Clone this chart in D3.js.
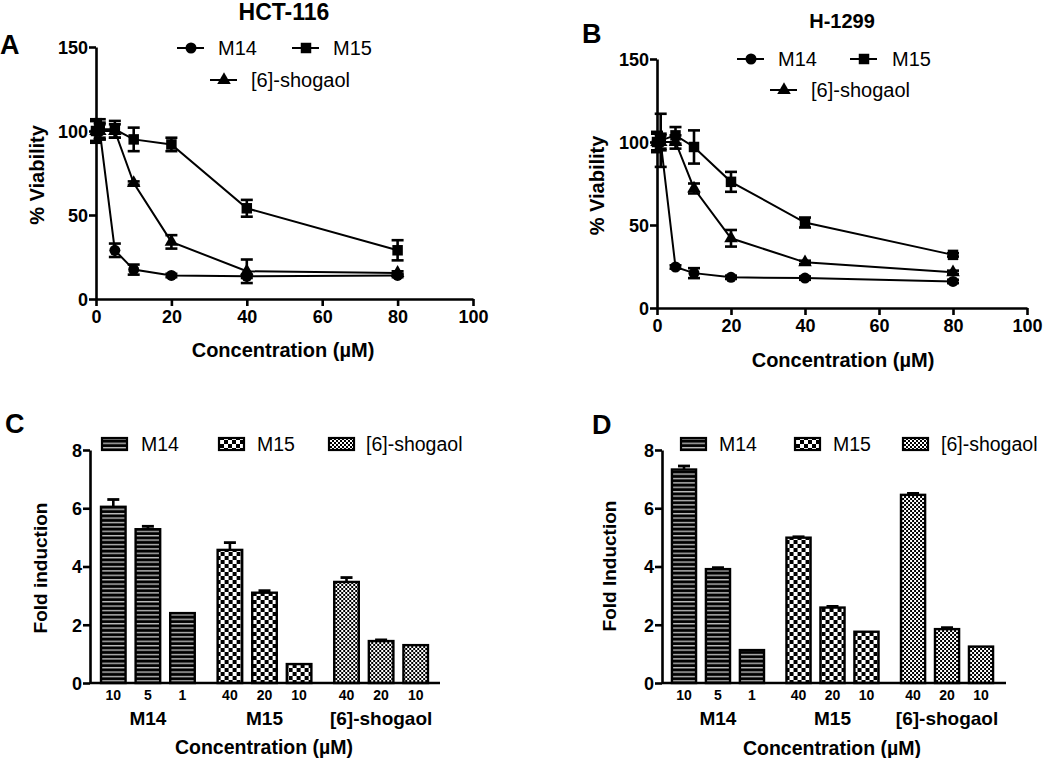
<!DOCTYPE html>
<html>
<head>
<meta charset="utf-8">
<script src="https://cdn.jsdelivr.net/npm/d3@7"></script>
<style>
  body { margin: 0; background: #fff; }
  svg { display: block; font-family: "Liberation Sans", Arial, sans-serif; }
</style>
</head>
<body>
<svg id="chart" width="1050" height="758"></svg>
<script>
// ---------- DATA ----------
const concX = [0, 1, 5, 10, 20, 40, 80];
const seriesNames = ["M14", "M15", "[6]-shogaol"];

// Panel A: HCT-116 viability
const hctM14 = [100, 100, 29, 17.5, 14, 13.5, 14];
const hctM14Err = [6, 5, 4, 3, 1, 1, 1];
const hctM15 = [100, 101, 101, 95, 92, 54, 29];
const hctM15Err = [7, 6, 5, 7, 4, 5, 6];
const hctSho = [100, 100, 100, 69, 34, 16.5, 15.5];
const hctShoErr = [6, 4, 4, 1, 4, 7, 1];

// Panel B: H-1299 viability
const hM14 = [100, 100, 24.7, 21, 18.5, 18, 16];
const hM14Err = [5, 5, 1, 3, 1, 1, 1];
const hM15 = [100, 101, 104, 97, 76, 51.5, 32];
const hM15Err = [6, 16, 5, 10, 6, 3, 1];
const hSho = [100, 100, 100, 72, 42, 27.5, 21.5];
const hShoErr = [6, 4, 4, 3, 5, 1, 1];

const viabTicks = [0, 50, 100, 150];
const concTicks = [0, 20, 40, 60, 80, 100];

// Panels C / D: fold induction
const concLabels = {
  "M14": ["10", "5", "1"],
  "M15": ["40", "20", "10"],
  "[6]-shogaol": ["40", "20", "10"]
};
const hctFold = { "M14": [6.05, 5.28, 2.4], "M15": [4.57, 3.1, 0.65], "[6]-shogaol": [3.47, 1.44, 1.3] };
const hctFoldErr = { "M14": [0.25, 0.1, 0], "M15": [0.25, 0.07, 0], "[6]-shogaol": [0.15, 0.04, 0] };
const hFold = { "M14": [7.33, 3.91, 1.13], "M15": [4.99, 2.59, 1.76], "[6]-shogaol": [6.46, 1.85, 1.25] };
const hFoldErr = { "M14": [0.12, 0.05, 0], "M15": [0.03, 0.04, 0], "[6]-shogaol": [0.05, 0.05, 0] };
const foldTicks = [0, 2, 4, 6, 8];

// ---------- DRAWING ----------
const svg = d3.select("#chart");
const FONT = '"Liberation Sans", Arial, sans-serif';

// patterns
const defs = svg.append("defs");
const pStripe = defs.append("pattern").attr("id", "pStripe").attr("patternUnits", "userSpaceOnUse")
  .attr("width", 8).attr("height", 4.4);
pStripe.append("rect").attr("width", 8).attr("height", 4.4).attr("fill", "#000");
pStripe.append("rect").attr("y", 2.6).attr("width", 8).attr("height", 1.4).attr("fill", "#bbb");

const pCheck = defs.append("pattern").attr("id", "pCheck").attr("patternUnits", "userSpaceOnUse")
  .attr("width", 8).attr("height", 8);
pCheck.append("rect").attr("width", 8).attr("height", 8).attr("fill", "#fff");
pCheck.append("rect").attr("width", 4).attr("height", 4).attr("fill", "#000");
pCheck.append("rect").attr("x", 4).attr("y", 4).attr("width", 4).attr("height", 4).attr("fill", "#000");

const pFine = defs.append("pattern").attr("id", "pFine").attr("patternUnits", "userSpaceOnUse")
  .attr("width", 4).attr("height", 4);
pFine.append("rect").attr("width", 4).attr("height", 4).attr("fill", "#fff");
pFine.append("rect").attr("width", 2).attr("height", 2).attr("fill", "#000");
pFine.append("rect").attr("x", 2).attr("y", 2).attr("width", 2).attr("height", 2).attr("fill", "#000");

const patternFor = { "M14": "url(#pStripe)", "M15": "url(#pCheck)", "[6]-shogaol": "url(#pFine)" };
const symbolFor = { "M14": d3.symbolCircle, "M15": d3.symbolSquare, "[6]-shogaol": d3.symbolTriangle };
const symbolSize = { "M14": 95, "M15": 110, "[6]-shogaol": 80 };

function styleAxis(ax, fontSize) {
  ax.select(".domain").attr("stroke", "#000").attr("stroke-width", 2.6);
  ax.selectAll(".tick line").attr("stroke", "#000").attr("stroke-width", 2.6);
  ax.selectAll(".tick text").attr("fill", "#000").attr("font-family", FONT)
    .attr("font-weight", "bold").attr("font-size", fontSize);
}

function drawLinePanel(cfg) {
  const g = svg.append("g");
  const x = d3.scaleLinear().domain([0, 100]).range([cfg.x0, cfg.x1]);
  const y = d3.scaleLinear().domain([0, 150]).range([cfg.yb, cfg.yt]);

  const ay = g.append("g").attr("transform", `translate(${cfg.x0},0)`)
    .call(d3.axisLeft(y).tickValues(viabTicks).tickSize(7).tickSizeOuter(0).tickPadding(1));
  styleAxis(ay, 18);
  ay.selectAll(".tick text").attr("dy", "0.36em");
  const ax = g.append("g").attr("transform", `translate(0,${cfg.yb})`)
    .call(d3.axisBottom(x).tickValues(concTicks).tickSize(7).tickSizeOuter(0).tickPadding(4));
  styleAxis(ax, 18);

  const line = d3.line().x(d => x(d.x)).y(d => y(d.v));
  cfg.series.forEach(s => {
    const pts = concX.map((c, i) => ({ x: c, v: s.values[i], e: s.err[i] }));
    g.append("path").datum(pts).attr("d", line).attr("fill", "none")
      .attr("stroke", "#000").attr("stroke-width", 2);
    const eb = g.append("g").selectAll("g").data(pts).join("g");
    eb.append("line").attr("x1", d => x(d.x)).attr("x2", d => x(d.x))
      .attr("y1", d => y(d.v - d.e)).attr("y2", d => y(d.v + d.e))
      .attr("stroke", "#000").attr("stroke-width", 2.6);
    [-1, 1].forEach(sg => {
      eb.append("line").attr("x1", d => x(d.x) - 6).attr("x2", d => x(d.x) + 6)
        .attr("y1", d => y(d.v + sg * d.e)).attr("y2", d => y(d.v + sg * d.e))
        .attr("stroke", "#000").attr("stroke-width", 2.6);
    });
    g.append("g").selectAll("path").data(pts).join("path")
      .attr("transform", d => `translate(${x(d.x)},${y(d.v)})`)
      .attr("d", d3.symbol().type(symbolFor[s.name]).size(symbolSize[s.name]))
      .attr("fill", "#000");
  });

  // legend
  cfg.legend.forEach(l => {
    g.append("line").attr("x1", l.lx).attr("x2", l.lx + 27).attr("y1", l.y).attr("y2", l.y)
      .attr("stroke", "#000").attr("stroke-width", 2);
    g.append("path").attr("transform", `translate(${l.lx + 14},${l.y})`)
      .attr("d", d3.symbol().type(symbolFor[l.name]).size(symbolSize[l.name])).attr("fill", "#000");
    g.append("text").attr("x", l.tx).attr("y", l.y).attr("dy", "0.36em")
      .attr("font-family", FONT).attr("font-size", 20).text(l.name);
  });

  // titles
  g.append("text").attr("x", cfg.titleX).attr("y", cfg.titleY).attr("text-anchor", "middle")
    .attr("font-family", FONT).attr("font-weight", "bold").attr("font-size", cfg.titleSize).text(cfg.title);
  g.append("text").attr("x", cfg.letterX).attr("y", cfg.letterY)
    .attr("font-family", FONT).attr("font-weight", "bold").attr("font-size", 27).text(cfg.letter);
  g.append("text").attr("transform", `translate(${cfg.ytX},${(cfg.yb + cfg.yt) / 2 + 2}) rotate(-90)`)
    .attr("text-anchor", "middle").attr("font-family", FONT).attr("font-weight", "bold")
    .attr("font-size", 20).text("% Viability");
  g.append("text").attr("x", cfg.xtX).attr("y", cfg.xtY).attr("text-anchor", "middle")
    .attr("font-family", FONT).attr("font-weight", "bold").attr("font-size", 20).text("Concentration (\u00b5M)");
}

function drawBarPanel(cfg) {
  const g = svg.append("g");
  const y = d3.scaleLinear().domain([0, 8]).range([cfg.yb, cfg.yt]);
  const outer = d3.scaleBand().domain(seriesNames).range([cfg.b0, cfg.b1]).paddingInner(0.11).paddingOuter(0);
  const inner = d3.scaleBand().domain([0, 1, 2]).range([0, outer.bandwidth()]).paddingInner(0.29).paddingOuter(0.145);

  seriesNames.forEach(name => {
    const vals = cfg.data[name].map((v, i) => ({ i, v, e: cfg.err[name][i], lab: concLabels[name][i] }));
    const gg = g.append("g").attr("transform", `translate(${outer(name)},0)`);
    gg.selectAll("rect").data(vals).join("rect")
      .attr("x", d => inner(d.i)).attr("width", inner.bandwidth())
      .attr("y", d => y(d.v)).attr("height", d => cfg.yb - y(d.v))
      .attr("fill", patternFor[name]).attr("stroke", "#000").attr("stroke-width", 2.4);
    const eb = gg.selectAll("g.eb").data(vals.filter(d => d.e > 0)).join("g").attr("class", "eb");
    eb.append("line").attr("x1", d => inner(d.i) + inner.bandwidth() / 2).attr("x2", d => inner(d.i) + inner.bandwidth() / 2)
      .attr("y1", d => y(d.v)).attr("y2", d => y(d.v + d.e)).attr("stroke", "#000").attr("stroke-width", 2.6);
    eb.append("line").attr("x1", d => inner(d.i) + inner.bandwidth() / 2 - 6).attr("x2", d => inner(d.i) + inner.bandwidth() / 2 + 6)
      .attr("y1", d => y(d.v + d.e)).attr("y2", d => y(d.v + d.e)).attr("stroke", "#000").attr("stroke-width", 2.8);
    gg.selectAll("text.cl").data(vals).join("text").attr("class", "cl")
      .attr("x", d => inner(d.i) + inner.bandwidth() / 2).attr("y", cfg.yb + 17)
      .attr("text-anchor", "middle").attr("font-family", FONT).attr("font-weight", "bold")
      .attr("font-size", 14).text(d => d.lab);
    gg.append("text").attr("x", outer.bandwidth() / 2).attr("y", cfg.yb + 42)
      .attr("text-anchor", "middle").attr("font-family", FONT).attr("font-weight", "bold")
      .attr("font-size", 19).text(name);
  });

  const ay = g.append("g").attr("transform", `translate(${cfg.x0},0)`)
    .call(d3.axisLeft(y).tickValues(foldTicks).tickSize(7).tickSizeOuter(0).tickPadding(1));
  styleAxis(ay, 18);
  ay.selectAll(".tick text").attr("dy", "0.36em");
  g.append("line").attr("x1", cfg.x0).attr("x2", cfg.x1).attr("y1", cfg.yb).attr("y2", cfg.yb)
    .attr("stroke", "#000").attr("stroke-width", 2.6);

  // legend
  cfg.legend.forEach(l => {
    g.append("rect").attr("x", l.bx).attr("y", cfg.legY - 6).attr("width", 25).attr("height", 12)
      .attr("fill", patternFor[l.name]).attr("stroke", "#000").attr("stroke-width", 2.2);
    g.append("text").attr("x", l.tx).attr("y", cfg.legY).attr("dy", "0.36em")
      .attr("font-family", FONT).attr("font-size", 19.5).text(l.name);
  });

  g.append("text").attr("x", cfg.letterX).attr("y", cfg.letterY)
    .attr("font-family", FONT).attr("font-weight", "bold").attr("font-size", 27).text(cfg.letter);
  g.append("text").attr("transform", `translate(${cfg.ytX},${cfg.ytY}) rotate(-90)`)
    .attr("text-anchor", "middle").attr("font-family", FONT).attr("font-weight", "bold")
    .attr("font-size", 19).text(cfg.ytitle);
  g.append("text").attr("x", cfg.xtX).attr("y", cfg.xtY).attr("text-anchor", "middle")
    .attr("font-family", FONT).attr("font-weight", "bold").attr("font-size", 19.5).text("Concentration (\u00b5M)");
}

drawLinePanel({
  x0: 96, x1: 473, yb: 299, yt: 47,
  series: [
    { name: "M14", values: hctM14, err: hctM14Err },
    { name: "M15", values: hctM15, err: hctM15Err },
    { name: "[6]-shogaol", values: hctSho, err: hctShoErr }
  ],
  legend: [
    { name: "M14", lx: 177, tx: 218, y: 48 },
    { name: "M15", lx: 292, tx: 333, y: 48 },
    { name: "[6]-shogaol", lx: 210, tx: 251, y: 80 }
  ],
  title: "HCT-116", titleX: 284, titleY: 20, titleSize: 23,
  letter: "A", letterX: 0, letterY: 54,
  ytX: 44, xtX: 283, xtY: 357
});

drawLinePanel({
  x0: 657, x1: 1027, yb: 308, yt: 59,
  series: [
    { name: "M14", values: hM14, err: hM14Err },
    { name: "M15", values: hM15, err: hM15Err },
    { name: "[6]-shogaol", values: hSho, err: hShoErr }
  ],
  legend: [
    { name: "M14", lx: 737, tx: 778, y: 59 },
    { name: "M15", lx: 850, tx: 892, y: 59 },
    { name: "[6]-shogaol", lx: 770, tx: 811, y: 90 }
  ],
  title: "H-1299", titleX: 842, titleY: 28, titleSize: 20,
  letter: "B", letterX: 582, letterY: 43,
  ytX: 604, xtX: 843, xtY: 367
});

drawBarPanel({
  x0: 90, x1: 440, yb: 683, yt: 450, b0: 96, b1: 433,
  data: hctFold, err: hctFoldErr,
  legY: 444,
  legend: [
    { name: "M14", bx: 102, tx: 141 },
    { name: "M15", bx: 219, tx: 257 },
    { name: "[6]-shogaol", bx: 329, tx: 366 }
  ],
  letter: "C", letterX: 5, letterY: 433,
  ytitle: "Fold induction", ytX: 47, ytY: 568,
  xtX: 264, xtY: 754
});

drawBarPanel({
  x0: 662, x1: 1006, yb: 683, yt: 450, b0: 667, b1: 998,
  data: hFold, err: hFoldErr,
  legY: 444,
  legend: [
    { name: "M14", bx: 681, tx: 719 },
    { name: "M15", bx: 795, tx: 833 },
    { name: "[6]-shogaol", bx: 903, tx: 941 }
  ],
  letter: "D", letterX: 592, letterY: 434,
  ytitle: "Fold Induction", ytX: 616, ytY: 566,
  xtX: 832, xtY: 755
});
</script>
</body>
</html>
